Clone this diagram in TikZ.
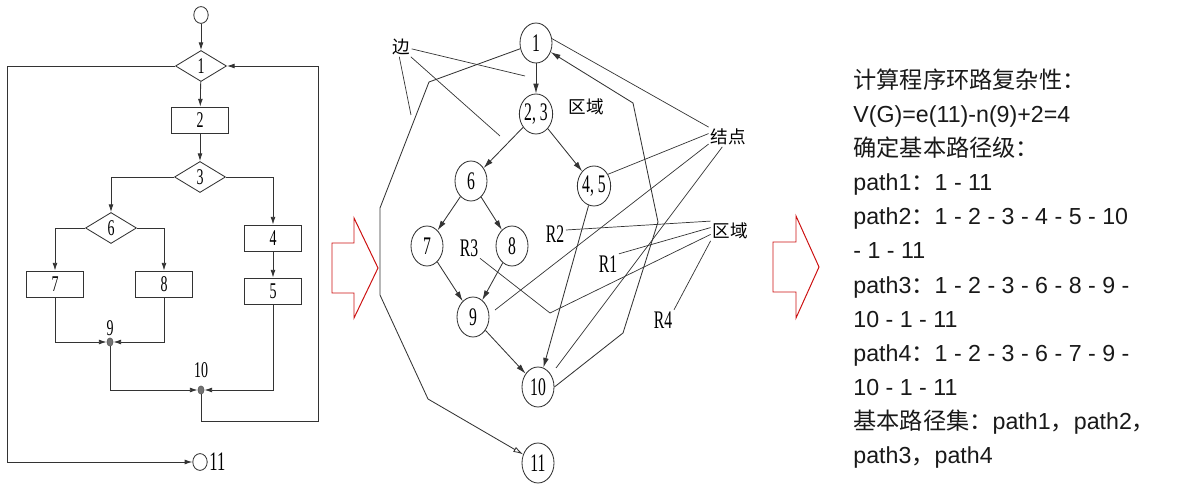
\documentclass[tikz,border=0pt]{standalone}
\usepackage{fontspec}
\setmainfont{Liberation Sans}
\newfontfamily\cjk{Noto Sans CJK SC}
\newfontfamily\narrow[FakeStretch=0.62]{Liberation Serif}
\usetikzlibrary{shapes.geometric,arrows.meta}
\definecolor{lineg}{HTML}{333333}
\definecolor{redarr}{HTML}{CC1111}

\begin{document}
\begin{tikzpicture}[
    x=0.025cm, y=-0.025cm,
    line width=0.6pt,
    dec/.style={diamond, draw=lineg, minimum width=1.275cm, minimum height=0.775cm, inner sep=0pt, font=\narrow\fontsize{16}{16}\selectfont},
    proc/.style={rectangle, draw=lineg, minimum width=1.425cm, minimum height=0.65cm, inner sep=0pt, font=\narrow\fontsize{16}{16}\selectfont},
    term/.style={ellipse, draw=lineg, minimum width=0.36cm, minimum height=0.42cm, inner sep=0pt},
    jn/.style={ellipse, draw=black!60, fill=black!55, minimum width=0.15cm, minimum height=0.2cm, inner sep=0pt},
    nd/.style={ellipse, draw=lineg, minimum width=0.8cm, minimum height=1cm, inner sep=0pt, font=\narrow\fontsize{18}{18}\selectfont},
    lbl/.style={inner sep=1pt, font=\narrow\fontsize{18}{18}\selectfont},
    zh/.style={inner sep=1pt, font=\cjk\fontsize{12.5}{12.5}\selectfont},
    txt/.style={anchor=base west, inner sep=0pt, text=black!90, font=\fontsize{16.5}{16.5}\selectfont},
    every label/.style={inner sep=1pt, font=\narrow\fontsize{16}{16}\selectfont},
    arrow/.style={-{Latex[length=5.5pt,width=3.5pt]}, draw=lineg},
    garrow/.style={-{Latex[length=7pt,width=4pt]}, draw=lineg},
    oarrow/.style={-{Latex[open,length=7pt,width=4pt]}, draw=lineg},
    lead/.style={draw=lineg, line width=0.5pt},
    bigarrow/.style={draw=redarr, line width=0.7pt}
]
    \useasboundingbox (0,0) rectangle (1180,497);

    \node[term] (s) at (201,15) {};
    \node[dec] (d1) at (201,66) {1};
    \node[proc] (p2) at (200,120) {2};
    \node[dec] (d3) at (200,177) {3};
    \node[dec] (d6) at (111,228) {6};
    \node[proc] (p4) at (273,238) {4};
    \node[proc] (p5) at (273,291) {5};
    \node[proc] (p7) at (55,284) {7};
    \node[proc] (p8) at (164,284) {8};
    \node[jn, label={[label distance=0pt]above:9}] (j9) at (110,342) {};
    \node[jn, label={[label distance=4pt]above:10}] (j10) at (201,390) {};
    \node[term, label={[font=\narrow\fontsize{19}{19}\selectfont]right:11}] (e11) at (200,462) {};
    \coordinate (lb) at (7,462);
    \coordinate (fb) at (318,421);

    \draw[arrow] (s) -- (d1);
    \draw[arrow] (d1) -- (p2);
    \draw[arrow] (p2) -- (d3);
    \draw[arrow] (d3.west) -| (d6.north);
    \draw[arrow] (d3.east) -| (p4.north);
    \draw[arrow] (d6.west) -| (p7.north);
    \draw[arrow] (d6.east) -| (p8.north);
    \draw[arrow] (p4) -- (p5);
    \draw[arrow] (p7.south) |- (j9);
    \draw[arrow] (p8.south) |- (j9);
    \draw[arrow] (j9) |- (j10);
    \draw[arrow] (p5.south) |- (j10);
    \draw[arrow] (j10) |- (fb) |- (d1.east);
    \draw[arrow] (d1.west) -| (lb) -- (e11);

    \draw[bigarrow] (332,243) -- (354,243) -- (354,218) -- (378,268) -- (354,318) -- (354,293) -- (332,293) -- cycle;

    \node[nd] (n1) at (536,43) {1};
    \node[nd] (n23) at (536,114) {2, 3};
    \node[nd] (n6) at (471,181) {6};
    \node[nd] (n45) at (594,186) {4, 5};
    \node[nd] (n7) at (427,246) {7};
    \node[nd] (n8) at (512,246) {8};
    \node[nd] (n9) at (473,317) {9};
    \node[nd] (n10) at (538,387) {10};
    \node[nd] (n11) at (538,463) {11};

    \node[zh] (bian) at (401,47) {边};
    \node[zh] (qy1) at (586,107) {区域};
    \node[zh] (jd) at (728,137) {结点};
    \node[zh] (qy2) at (730,231) {区域};
    \node[lbl] (r1) at (608,264) {R1};
    \node[lbl] (r2) at (555,234) {R2};
    \node[lbl] (r3) at (469,248) {R3};
    \node[lbl] (r4) at (663,320) {R4};

    \draw[garrow] (n1) -- (n23);
    \draw[garrow] (n23) -- (n6);
    \draw[garrow] (n23) -- (n45);
    \draw[garrow] (n6) -- (n7);
    \draw[garrow] (n6) -- (n8);
    \draw[garrow] (n7) -- (n9);
    \draw[garrow] (n8) -- (n9);
    \draw[garrow] (n9) -- (n10);
    \draw[garrow] (n45) -- (n10);

    \coordinate (k1) at (623,333);
    \coordinate (k2) at (658,222);
    \coordinate (k3) at (633,103);
    \draw[garrow] (n10.east) -- (k1) -- (k2) -- (k3) -- (n1);

    \coordinate (m1) at (429,82);
    \coordinate (m2) at (380,208);
    \coordinate (m3) at (380,295);
    \coordinate (m4) at (428,399);
    \draw[oarrow] (n1) -- (m1) -- (m2) -- (m3) -- (m4) -- (n11);

    \coordinate (b1) at (525,76);
    \coordinate (b2) at (500,136);
    \coordinate (b3) at (411,115);
    \draw[lead] (bian.-10) -- (b1);
    \draw[lead] (bian.-45) -- (b2);
    \draw[lead] (bian.-100) -- (b3);

    \coordinate (q9) at (495,310);
    \coordinate (q10) at (556,368);
    \draw[lead] (jd.north west) -- (n1.15);
    \draw[lead] (jd.170) -- (n45.40);
    \draw[lead] (jd.200) -- (q9);
    \draw[lead] (jd.-120) -- (q10);

    \coordinate (k5) at (550,313);
    \draw[lead] (qy2.north west) -- (r2.20);
    \draw[lead] (qy2.170) -- (r1.north east);
    \draw[lead] (qy2.190) -- (k5) -- (r3.south east);
    \draw[lead] (qy2.south west) -- (r4.north east);

    \draw[bigarrow] (773,242) -- (796,242) -- (796,216) -- (819,267) -- (796,318) -- (796,292) -- (773,292) -- cycle;

    \foreach \t [count=\i] in {
        {{\cjk 计算程序环路复杂性：}},
        {V(G)=e(11)-n(9)+2=4},
        {{\cjk 确定基本路径级：}},
        {path1{\cjk ：}1 - 11},
        {path2{\cjk ：}1 - 2 - 3 - 4 - 5 - 10},
        {- 1 - 11},
        {path3{\cjk ：}1 - 2 - 3 - 6 - 8 - 9 -},
        {10 - 1 - 11},
        {path4{\cjk ：}1 - 2 - 3 - 6 - 7 - 9 -},
        {10 - 1 - 11},
        {{\cjk 基本路径集：}path1{\cjk ，}path2{\cjk ，}},
        {path3{\cjk ，}path4}}
        \node[txt] (t\i) at (853, {88.5+34.1*(\i-1)}) {\t};
\end{tikzpicture}
\end{document}
